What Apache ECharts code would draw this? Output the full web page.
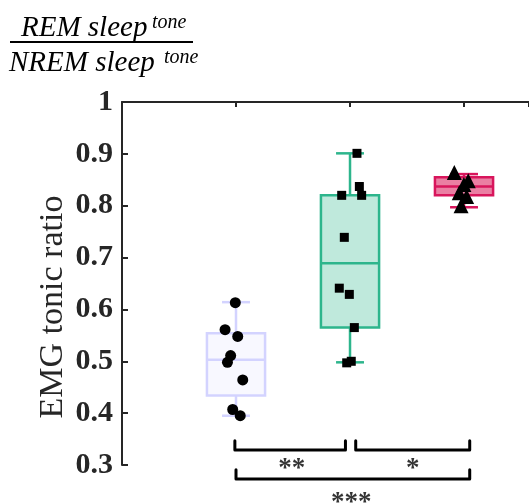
<!DOCTYPE html>
<html>
<head>
<meta charset="utf-8">
<script src="https://cdn.jsdelivr.net/npm/echarts@6/dist/echarts.min.js"></script>
<style>html,body{margin:0;padding:0;background:#fff}#c{width:529px;height:503px}</style>
</head>
<body>
<div id="c"></div>
<script>
// ---- data ----
var groupPositions = [1, 2, 3];
// box statistics: [min, Q1, median, Q3, max]
var boxStats = [
  [0.395, 0.434, 0.503, 0.554, 0.614],
  [0.498, 0.565, 0.689, 0.820, 0.901],
  [0.797, 0.820, 0.837, 0.855, 0.861]
];
var g1X = [0.994, 0.904, 1.015, 0.953, 0.925, 1.059, 0.971, 1.037];
var g1Y = [0.613, 0.561, 0.548, 0.511, 0.498, 0.464, 0.407, 0.395];
var g2X = [2.061, 2.082, 1.927, 2.102, 1.950, 1.906, 1.994, 2.038, 2.011, 1.971];
var g2Y = [0.901, 0.837, 0.820, 0.820, 0.739, 0.641, 0.629, 0.565, 0.500, 0.497];
var g3X = [2.915, 3.037, 2.999, 2.958, 3.023, 2.974];
var g3Y = [0.864, 0.848, 0.841, 0.825, 0.818, 0.800];
var yTicks = [0.3, 0.4, 0.5, 0.6, 0.7, 0.8, 0.9, 1];
var bracketStart = [0.99, 2.05, 1.0];
var bracketEnd = [1.96, 3.05, 3.05];
var bracketTop = [0.347, 0.347, 0.291];
var bracketBottom = [0.329, 0.329, 0.273];
var sigLabels = ['**', '*', '***'];
var sigX = [1.49, 2.55, 2.01];
var sigY = [0.293, 0.293, 0.226];

// ---- styles ----
var boxEdge = ['#d3d3ff', '#2db58c', '#d8165c'];
var boxFill = ['#f8f8ff', '#bfe9dc', '#ea7fa3'];
var pointSymbol = ['circle', 'rect', 'triangle'];
var pointSize = [11, 9, 15];

var chart = echarts.init(document.getElementById('c'), null, {renderer: 'canvas'});

var boxData = groupPositions.map(function (x, i) { return [x].concat(boxStats[i]); });

var series = [{
  type: 'custom',
  clip: false,
  data: boxData,
  z: 2,
  renderItem: function (params, api) {
    var i = params.dataIndex;
    var x = api.value(0);
    var w = api.size([0.51, 0])[0];
    var cw = api.size([0.245, 0])[0];
    var pMin = api.coord([x, api.value(1)]);
    var pQ1 = api.coord([x, api.value(2)]);
    var pMed = api.coord([x, api.value(3)]);
    var pQ3 = api.coord([x, api.value(4)]);
    var pMax = api.coord([x, api.value(5)]);
    var cx = pMed[0];
    var ls = {stroke: boxEdge[i], lineWidth: 2.5, fill: null};
    return {
      type: 'group',
      children: [
        {type: 'line', shape: {x1: cx, y1: pMax[1], x2: cx, y2: pQ3[1]}, style: ls},
        {type: 'line', shape: {x1: cx, y1: pQ1[1], x2: cx, y2: pMin[1]}, style: ls},
        {type: 'line', shape: {x1: cx - cw / 2, y1: pMax[1], x2: cx + cw / 2, y2: pMax[1]}, style: ls},
        {type: 'line', shape: {x1: cx - cw / 2, y1: pMin[1], x2: cx + cw / 2, y2: pMin[1]}, style: ls},
        {type: 'rect', shape: {x: cx - w / 2, y: pQ3[1], width: w, height: pQ1[1] - pQ3[1]},
          style: {fill: boxFill[i], stroke: boxEdge[i], lineWidth: 2.5}},
        {type: 'line', shape: {x1: cx - w / 2, y1: pMed[1], x2: cx + w / 2, y2: pMed[1]}, style: ls}
      ]
    };
  }
}];

[[g1X, g1Y], [g2X, g2Y], [g3X, g3Y]].forEach(function (g, i) {
  series.push({
    type: 'scatter',
    z: 5,
    symbol: pointSymbol[i],
    symbolSize: pointSize[i],
    itemStyle: {color: '#000', opacity: 1},
    data: g[0].map(function (x, k) { return [x, g[1][k]]; })
  });
});

bracketStart.forEach(function (s, i) {
  series.push({
    type: 'line',
    clip: false,
    symbol: 'none',
    z: 4,
    lineStyle: {color: '#000', width: 3, cap: 'round', join: 'round'},
    data: [[s, bracketTop[i]], [s, bracketBottom[i]], [bracketEnd[i], bracketBottom[i]], [bracketEnd[i], bracketTop[i]]]
  });
});

series.push({
  type: 'scatter',
  clip: false,
  symbolSize: 0,
  z: 4,
  data: sigX.map(function (x, i) { return {value: [x, sigY[i]], name: sigLabels[i]}; }),
  label: {
    show: true, position: 'inside', formatter: '{b}',
    fontFamily: 'Liberation Serif', fontWeight: 'bold', fontSize: 27, color: '#000'
  }
});

var option = {
  backgroundColor: '#fff',
  animation: false,
  grid: {left: 122, right: 0, top: 102, bottom: 38, containLabel: false},
  xAxis: {
    type: 'value', position: 'top', min: 0, max: 3.57, interval: 1,
    axisLine: {show: true, lineStyle: {color: '#262626', width: 2}},
    axisTick: {show: true, inside: true, length: 5, lineStyle: {color: '#262626', width: 2}},
    axisLabel: {show: false},
    splitLine: {show: false}
  },
  yAxis: {
    type: 'value', min: 0.3, max: 1, interval: 0.1,
    axisLine: {show: true, lineStyle: {color: '#262626', width: 2}},
    axisTick: {show: true, inside: true, length: 6, lineStyle: {color: '#262626', width: 2}},
    axisLabel: {
      margin: 9, fontFamily: 'Liberation Serif', fontWeight: 'bold', fontSize: 30, color: '#262626',
      formatter: function (v) {
        var r = Math.round(v * 10) / 10;
        return r === 1 ? '1' : r.toFixed(1);
      }
    },
    splitLine: {show: false}
  },
  graphic: [
    {type: 'text', x: 53, y: 307, rotation: Math.PI / 2,
      style: {text: 'EMG tonic ratio', fontFamily: 'Liberation Serif', fontSize: 34, fill: '#262626', align: 'center', verticalAlign: 'middle'}},
    {type: 'text', x: 21, y: 28,
      style: {text: 'REM sleep', fontFamily: 'Liberation Serif', fontStyle: 'italic', fontSize: 29, fill: '#000', align: 'left', verticalAlign: 'middle'}},
    {type: 'text', x: 152, y: 23,
      style: {text: 'tone', fontFamily: 'Liberation Serif', fontStyle: 'italic', fontSize: 20, fill: '#000', align: 'left', verticalAlign: 'middle'}},
    {type: 'line', shape: {x1: 10, y1: 42, x2: 193, y2: 42}, style: {stroke: '#000', lineWidth: 2}},
    {type: 'text', x: 9, y: 63,
      style: {text: 'NREM sleep', fontFamily: 'Liberation Serif', fontStyle: 'italic', fontSize: 29, fill: '#000', align: 'left', verticalAlign: 'middle'}},
    {type: 'text', x: 164, y: 58,
      style: {text: 'tone', fontFamily: 'Liberation Serif', fontStyle: 'italic', fontSize: 20, fill: '#000', align: 'left', verticalAlign: 'middle'}}
  ],
  series: series
};
chart.setOption(option);
</script>
</body>
</html>
